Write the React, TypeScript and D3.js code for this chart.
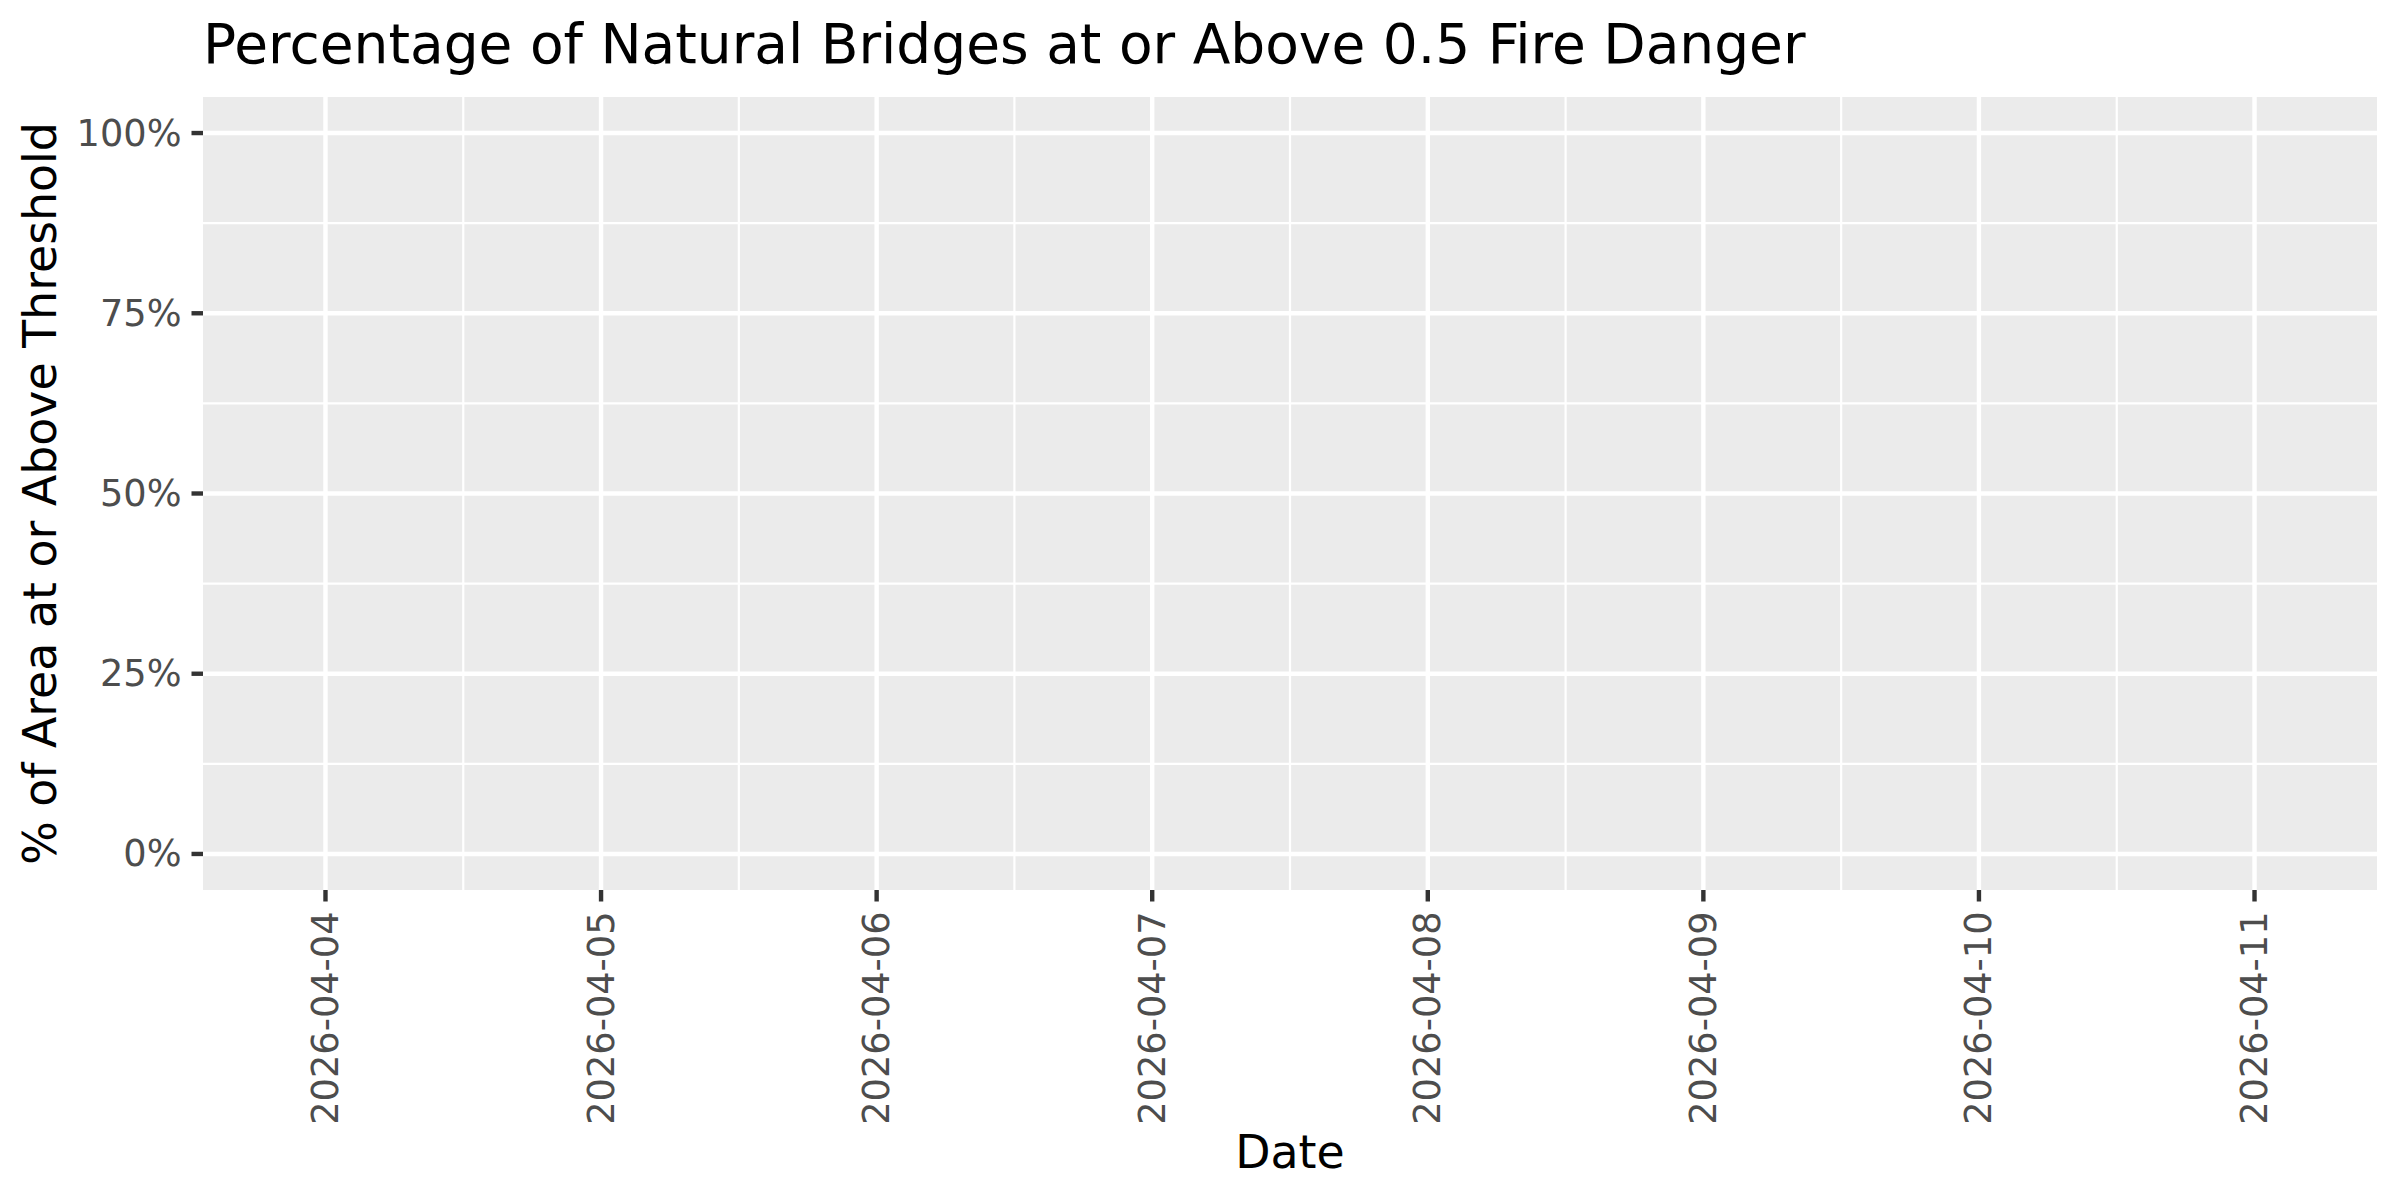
import * as d3 from "d3";

/* ------------------------------------------------------------------ */
/*  Data                                                              */
/* ------------------------------------------------------------------ */

const titleText = "Percentage of Natural Bridges at or Above 0.5 Fire Danger";
const xTitle = "Date";
const yTitle = "% of Area at or Above Threshold";

// x axis (UTC days)
const xTickDates = [
  "2026-04-04",
  "2026-04-05",
  "2026-04-06",
  "2026-04-07",
  "2026-04-08",
  "2026-04-09",
  "2026-04-10",
  "2026-04-11",
];
const xDomainStart = "2026-04-03T13:20:00Z";
const xDomainEnd = "2026-04-11T10:40:00Z";

// y axis (fractions)
const yTicks = [0, 0.25, 0.5, 0.75, 1];
const yTickLabels = ["0%", "25%", "50%", "75%", "100%"];
const yDomain: [number, number] = [-0.05, 1.05];

// series: no values were above the threshold line in the picture
const seriesDates: string[] = [];
const seriesValues: number[] = [];

/* ------------------------------------------------------------------ */
/*  Component                                                         */
/* ------------------------------------------------------------------ */

const W = 2400;
const H = 1200;
const panel = { left: 203, right: 2377, top: 97, bottom: 890 };
const font = "'DejaVu Sans', Verdana, sans-serif";

export default function App() {
  const parseDay = (s: string) => new Date(s + "T00:00:00Z");

  const x = d3
    .scaleUtc()
    .domain([new Date(xDomainStart), new Date(xDomainEnd)])
    .range([panel.left, panel.right]);
  const y = d3.scaleLinear().domain(yDomain).range([panel.bottom, panel.top]);

  const majorX = xTickDates.map(parseDay);
  const minorX = majorX
    .slice(0, -1)
    .map((d) => d3.utcHour.offset(d, 12))
    .filter((d) => d >= x.domain()[0] && d <= x.domain()[1]);
  const minorY = yTicks.slice(0, -1).map((t, i) => (t + yTicks[i + 1]) / 2);

  const line = d3
    .line<number>()
    .x((_, i) => x(parseDay(seriesDates[i])))
    .y((v) => y(v));

  const majorW = 4.4;
  const minorW = 2.2;
  const tickLen = 11.5;

  return (
    <svg
      width={W}
      height={H}
      viewBox={`0 0 ${W} ${H}`}
      style={{ position: "absolute", left: 0, top: 0, background: "#FFFFFF" }}
      fontFamily={font}
    >
      <rect x={0} y={0} width={W} height={H} fill="#FFFFFF" />

      {/* Panel */}
      <rect
        x={panel.left}
        y={panel.top}
        width={panel.right - panel.left}
        height={panel.bottom - panel.top}
        fill="#EBEBEB"
      />

      {/* Minor grid */}
      {minorY.map((t) => (
        <line
          key={`my-${t}`}
          x1={panel.left}
          x2={panel.right}
          y1={y(t)}
          y2={y(t)}
          stroke="#FFFFFF"
          strokeWidth={minorW}
        />
      ))}
      {minorX.map((d) => (
        <line
          key={`mx-${d.toISOString()}`}
          x1={x(d)}
          x2={x(d)}
          y1={panel.top}
          y2={panel.bottom}
          stroke="#FFFFFF"
          strokeWidth={minorW}
        />
      ))}

      {/* Major grid */}
      {yTicks.map((t) => (
        <line
          key={`gy-${t}`}
          x1={panel.left}
          x2={panel.right}
          y1={y(t)}
          y2={y(t)}
          stroke="#FFFFFF"
          strokeWidth={majorW}
        />
      ))}
      {majorX.map((d) => (
        <line
          key={`gx-${d.toISOString()}`}
          x1={x(d)}
          x2={x(d)}
          y1={panel.top}
          y2={panel.bottom}
          stroke="#FFFFFF"
          strokeWidth={majorW}
        />
      ))}

      {/* Series (empty) */}
      {seriesValues.length > 0 && (
        <path d={line(seriesValues) ?? ""} fill="none" stroke="#000000" strokeWidth={4.4} />
      )}

      {/* Y axis ticks + labels */}
      {yTicks.map((t, i) => (
        <g key={`yt-${t}`}>
          <line
            x1={panel.left - tickLen}
            x2={panel.left}
            y1={y(t)}
            y2={y(t)}
            stroke="#333333"
            strokeWidth={majorW}
          />
          <text
            x={panel.left - tickLen - 10}
            y={y(t)}
            textAnchor="end"
            dominantBaseline="central"
            fontSize={36.7}
            fill="#4D4D4D"
          >
            {yTickLabels[i]}
          </text>
        </g>
      ))}

      {/* X axis ticks + labels */}
      {majorX.map((d, i) => (
        <g key={`xt-${i}`}>
          <line
            x1={x(d)}
            x2={x(d)}
            y1={panel.bottom}
            y2={panel.bottom + tickLen}
            stroke="#333333"
            strokeWidth={majorW}
          />
          <text
            transform={`translate(${x(d)},${panel.bottom + tickLen + 10}) rotate(-90)`}
            textAnchor="end"
            dominantBaseline="central"
            fontSize={36.7}
            fill="#4D4D4D"
          >
            {xTickDates[i]}
          </text>
        </g>
      ))}

      {/* Titles */}
      <text x={panel.left} y={63} fontSize={55} fill="#000000">
        {titleText}
      </text>
      <text
        x={(panel.left + panel.right) / 2}
        y={1168}
        textAnchor="middle"
        fontSize={45.8}
        fill="#000000"
      >
        {xTitle}
      </text>
      <text
        transform={`translate(56,${(panel.top + panel.bottom) / 2}) rotate(-90)`}
        textAnchor="middle"
        fontSize={45.8}
        fill="#000000"
      >
        {yTitle}
      </text>
    </svg>
  );
}
